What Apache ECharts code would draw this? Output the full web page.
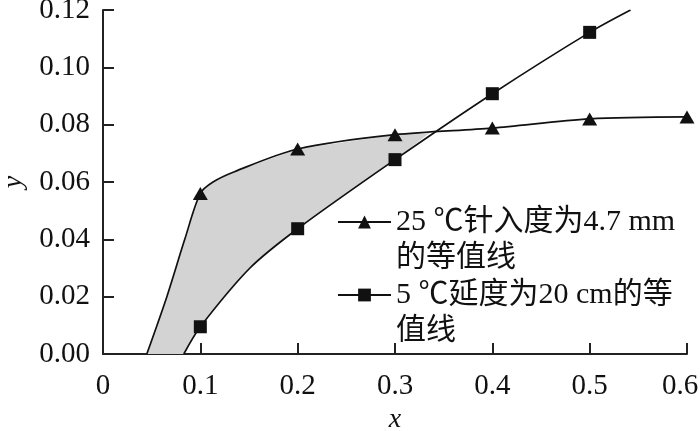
<!DOCTYPE html>
<html>
<head>
<meta charset="utf-8">
<script src="https://cdn.jsdelivr.net/npm/echarts@6/dist/echarts.min.js"></script>
<style>
html, body { margin: 0; background: #fff; }
#chart { width: 700px; height: 431px; }
</style>
</head>
<body>
<div id="chart"></div>
<script>
// 25 ℃ penetration line: marked points + extra points
var triX = [0.1, 0.2, 0.3, 0.4, 0.5, 0.6];
var triY = [0.056, 0.0715, 0.0765, 0.0788, 0.082, 0.0827];
var triCurveX = [0.045, 0.0656, 0.084, 0.113, 0.135];
var triCurveY = [0, 0.02, 0.04, 0.06, 0.0636];

// 5 ℃ ductility line
var sqX = [0.1, 0.2, 0.3, 0.4, 0.5];
var sqY = [0.0095, 0.0437, 0.0678, 0.0908, 0.1122];
var sqCurveX = [0.083, 0.151, 0.542];
var sqCurveY = [0, 0.030, 0.12];

// where the two lines cross (end of the grey zone)
var crossPoint = [0.337, 0.0775];

var triName = '25 ℃针入度为4.7 mm\n的等值线';
var sqName = '5 ℃延度为20 cm的等\n值线';

var serif = '"Liberation Serif", "Noto Sans CJK SC", serif';

function curveData(mx, my, gx, gy) {
    var pts = [];
    mx.forEach(function (x, i) { pts.push({ value: [x, my[i]] }); });
    gx.forEach(function (x, i) { pts.push({ value: [x, gy[i]], symbol: 'none' }); });
    pts.sort(function (a, b) { return a.value[0] - b.value[0]; });
    return pts;
}

var triData = curveData(triX, triY, triCurveX, triCurveY);
var sqData = curveData(sqX, sqY, sqCurveX, sqCurveY);

// outline of the shaded area: along the triangle line, back along the square line
var zonePts = [];
triData.forEach(function (d) { if (d.value[0] < crossPoint[0]) zonePts.push(d.value); });
zonePts.push(crossPoint);
sqData.slice().reverse().forEach(function (d) { if (d.value[0] < crossPoint[0]) zonePts.push(d.value); });

var chart = echarts.init(document.getElementById('chart'));

// a blank first line keeps the icon level with the first text line
var legendBase = {
    left: 337,
    orient: 'vertical',
    itemWidth: 53,
    itemHeight: 16,
    padding: 0,
    selectedMode: false,
    formatter: function (name) { return '\n' + name; },
    textStyle: {
        fontFamily: serif,
        fontSize: 30,
        lineHeight: 36,
        color: '#111'
    }
};

chart.setOption({
    animation: false,
    backgroundColor: '#fff',
    grid: { left: 103, right: 13, top: 10, bottom: 77, outerBoundsMode: 'none' },
    legend: [
        Object.assign({}, legendBase, { top: 168, data: [triName] }),
        Object.assign({}, legendBase, { top: 241, data: [sqName] })
    ],
    xAxis: {
        type: 'value',
        min: 0,
        max: 0.6,
        interval: 0.1,
        name: 'x',
        nameLocation: 'middle',
        nameGap: 50,
        nameTextStyle: { fontFamily: serif, fontStyle: 'italic', fontSize: 28, color: '#111' },
        axisLine: { lineStyle: { color: '#222', width: 2 } },
        axisTick: { inside: true, length: 11, lineStyle: { color: '#222', width: 2 } },
        splitLine: { show: false },
        axisLabel: {
            margin: 18,
            fontFamily: serif,
            fontSize: 29,
            color: '#111',
            formatter: function (v) {
                if (v === 0) return '0';
                // last label sits a little left so it stays inside the picture
                return v > 0.55 ? '{r|' + v.toFixed(1) + '}' : v.toFixed(1);
            },
            rich: { r: { fontFamily: serif, fontSize: 29, color: '#111', padding: [0, 14, 0, 0] } }
        }
    },
    yAxis: {
        type: 'value',
        min: 0,
        max: 0.12,
        interval: 0.02,
        name: 'y',
        nameLocation: 'middle',
        nameGap: 75,
        nameTextStyle: { fontFamily: serif, fontStyle: 'italic', fontSize: 28, color: '#111' },
        axisLine: { show: true, lineStyle: { color: '#222', width: 2 } },
        axisTick: { show: true, inside: true, length: 11, lineStyle: { color: '#222', width: 2 } },
        splitLine: { show: false },
        axisLabel: {
            margin: 13,
            fontFamily: serif,
            fontSize: 29,
            color: '#111',
            formatter: function (v) { return v.toFixed(2); }
        }
    },
    series: [
        {
            type: 'custom',
            silent: true,
            z: 1,
            data: [0],
            renderItem: function (params, api) {
                return {
                    type: 'polygon',
                    shape: { points: zonePts.map(function (p) { return api.coord(p); }) },
                    style: { fill: '#d3d3d3', stroke: null }
                };
            }
        },
        {
            name: triName,
            type: 'line',
            z: 3,
            smooth: 0.3,
            symbol: 'triangle',
            symbolSize: [15, 13],
            itemStyle: { color: '#111' },
            lineStyle: { color: '#111', width: 1.7 },
            data: triData
        },
        {
            name: sqName,
            type: 'line',
            z: 3,
            smooth: 0.3,
            symbol: 'rect',
            symbolSize: 13,
            itemStyle: { color: '#111' },
            lineStyle: { color: '#111', width: 1.7 },
            data: sqData
        }
    ]
});
</script>
</body>
</html>
